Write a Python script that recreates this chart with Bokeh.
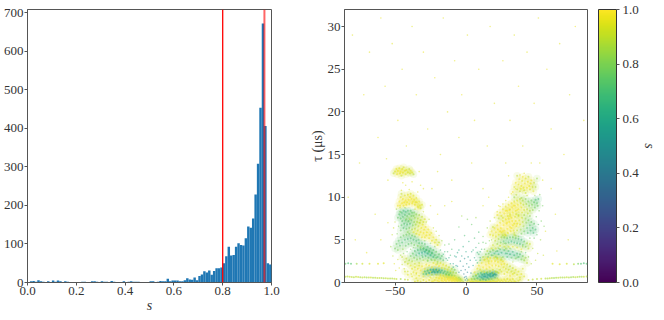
from bokeh.embed import file_html
from bokeh.resources import INLINE
from bokeh.plotting import figure
from bokeh.layouts import row
from bokeh.models import (ColumnDataSource, ColorBar, LinearColorMapper, FixedTicker,
                          Label, Span, Range1d, PrintfTickFormatter, Title)
from bokeh.palettes import Viridis256

hist_s = [i / 100 for i in range(100)]
hist_counts = [1, 3, 4, 2, 6, 3, 2, 1, 3, 1, 5, 2, 5, 3, 1, 3, 2, 1, 1, 0,
               1, 1, 2, 2, 1, 1, 3, 3, 2, 1, 3, 2, 2, 1, 4, 2, 1, 1, 0, 3,
               0, 2, 3, 2, 2, 2, 1, 1, 1, 1, 3, 3, 1, 2, 4, 3, 3, 10, 3, 5,
               5, 5, 3, 3, 6, 11, 8, 7, 13, 6, 17, 21, 29, 26, 31, 20, 30, 37, 37, 39,
               50, 68, 93, 70, 71, 93, 102, 97, 96, 115, 145, 142, 166, 228, 308, 453, 672, 406, 50, 47]
s_lines = [0.80, 0.971]

x_ticks_hist = [0.0, 0.2, 0.4, 0.6, 0.8, 1.0]
y_ticks_hist = [0, 100, 200, 300, 400, 500, 600, 700]
x_ticks_map = [-50, 0, 50]
y_ticks_map = [0, 5, 10, 15, 20, 25, 30]
cb_ticks = [0.0, 0.2, 0.4, 0.6, 0.8, 1.0]

# (f_D mHz, tau us, s), feature by feature
arc_r12 = [(33,10.6,.97),(34,11.2,.95),(35,11.7,.98),(36,10.9,.93),(37,11.5,.96),(37.5,12.1,.98),(38,10.7,.9),(39,11.3,.97),(39.5,11.9,.95),(40,12.4,.98),(41,10.8,.93),(41.5,11.6,.98),(42,12.2,.96),(43,11.1,.99),(43.5,11.8,.97),(44,12.4,.9),(45,10.9,.94),(45.5,11.6,.96),(46,12.0,.97),(47,11.2,.92),(47.5,10.7,.95),(48,11.7,.9),(49,11.2,.88),(36,12.5,.9),(42,10.5,.92),(38.5,11.0,.98),(40.5,11.1,.96),(44.5,11.3,.97),(35.5,10.3,.9),(50,12.2,.85)]
arc_r9 = [(22,7.9,.97),(24,8.2,.98),(25,7.8,.95),(26,8.6,.97),(27,8.1,.99),(28,8.9,.96),(29,8.4,.98),(30,9.1,.97),(30.5,8.5,.99),(31,8.0,.95),(32,9.3,.97),(32.5,8.8,.99),(33,8.2,.98),(34,9.5,.96),(34.5,9.0,.98),(35,8.4,.97),(35.5,8.0,.94),(36,9.6,.95),(36.5,9.1,.97),(37,8.6,.98),(38,9.8,.9),(38.5,9.3,.94),(39,8.8,.96),(39.5,8.2,.95),(40,9.6,.88),(40.5,9.1,.9),(41,8.5,.94),(42,9.8,.82),(42.5,9.2,.86),(43,8.6,.9),(43.5,8.1,.92),(44,9.5,.8),(44.5,9.0,.83),(45,8.4,.87),(46,9.6,.78),(46.5,9.1,.8),(47,8.5,.84),(48,9.4,.76),(48.5,8.8,.78),(49,9.7,.72),(50,9.3,.75),(50.5,9.0,.78),(51,9.8,.7),(28,8.4,.98),(31,8.6,.96),(33.5,9.0,.97),(36,8.5,.98),(26,7.6,.93),(29.5,7.8,.96),(37,7.9,.9),(41,7.9,.85),(45,7.8,.82),(23,7.5,.9),(39,9.9,.85),(34,10.0,.85)]
arc_r7 = [(17,5.6,.96),(18,6.0,.97),(19,5.5,.95),(20,6.4,.98),(21,5.9,.98),(22,6.7,.97),(22.5,6.2,.98),(23,5.6,.95),(24,7.0,.98),(24.5,6.4,.99),(25,5.9,.97),(26,7.2,.97),(26.5,6.7,.99),(27,6.1,.98),(27.5,5.6,.95),(28,7.4,.98),(28.5,6.9,.99),(29,6.3,.99),(29.5,5.8,.96),(30,7.5,.97),(30.5,7.1,.99),(31,6.5,.98),(31.5,6.0,.97),(32,7.6,.98),(32.5,7.2,.99),(33,6.7,.98),(33.5,6.1,.96),(34,5.6,.92),(34.5,7.7,.96),(35,7.2,.98),(35.5,6.6,.97),(36,6.1,.9),(37,7.8,.94),(37.5,7.3,.96),(38,6.8,.95),(38.5,6.2,.85),(39,5.7,.8),(39.5,7.6,.92),(40,7.1,.9),(40.5,6.6,.86),(41,6.0,.78),(42,7.5,.85),(42.5,7.0,.82),(43,6.4,.75),(43.5,5.8,.72),(44,7.3,.8),(45,6.7,.74),(45.5,6.1,.7),(46,7.1,.76),(47,6.4,.72),(47.5,5.8,.7),(48,6.9,.74),(26,6.0,.99),(29,7.0,.98),(32,6.4,.99),(34,6.9,.97),(24,6.0,.98),(21,5.4,.96),(36,6.9,.97),(28,5.5,.95),(31,7.8,.96),(19,6.5,.9),(49,6.2,.7)]
arc_r5 = [(19,4.4,.92),(20.5,4.9,.9),(22,4.5,.85),(23,5.1,.88),(24.5,4.7,.8),(25,5.3,.85),(26.5,4.8,.75),(27,5.3,.8),(28,4.6,.78),(29,5.2,.75),(30,4.7,.72),(31,5.3,.75),(32,4.8,.7),(33,5.3,.78),(34,4.7,.72),(35,5.2,.74),(36,4.6,.7),(37,5.1,.72),(38,4.5,.72),(39,5.0,.7),(40,4.4,.78),(41,4.8,.75),(42,4.2,.8),(43,4.6,.85),(44,4.0,.9),(45,4.5,.92),(24,4.3,.95),(27,4.2,.93),(30,4.2,.92),(33,4.2,.94),(36,4.1,.92),(39,3.9,.95),(21,4.0,.96),(18,4.0,.95),(26,5.5,.9),(35,5.5,.85)]
arc_r3 = [(12,3.0,.85),(14,3.3,.8),(15.5,3.0,.78),(17,3.6,.75),(18,3.2,.7),(19,3.8,.78),(20,3.4,.68),(21,3.0,.8),(22,3.7,.7),(23,3.3,.66),(24,3.9,.75),(25,3.5,.65),(26,3.0,.78),(27,3.8,.7),(28,3.4,.66),(29,3.0,.72),(30,3.7,.7),(31,3.3,.64),(32,2.9,.75),(33,3.6,.68),(34,3.2,.66),(35,2.8,.8),(36,3.4,.7),(37,3.0,.72),(38,3.3,.72),(39,2.7,.8),(40,3.1,.78),(41,2.6,.85),(42,2.9,.85),(43,2.3,.9),(13,2.7,.9),(16,2.5,.92),(22,2.9,.85),(25,2.7,.85),(15,3.7,.88),(10,2.6,.75),(9,3.3,.72),(28,4.0,.85)]
arc_r2 = [(8,1.6,.96),(9,2.0,.97),(10,1.5,.95),(11,2.3,.98),(12,1.8,.98),(13,2.6,.97),(14,2.1,.99),(14.5,1.6,.97),(15,2.8,.98),(16,2.3,.99),(16.5,1.8,.98),(17,2.9,.97),(18,2.5,.99),(18.5,2.0,.98),(19,1.5,.95),(20,2.9,.96),(20.5,2.5,.98),(21,2.0,.97),(22,2.8,.96),(22.5,2.4,.98),(23,1.9,.96),(24,1.5,.93),(24.5,2.6,.97),(25,2.1,.98),(26,2.5,.97),(26.5,1.8,.95),(27,2.2,.97),(28,1.6,.94),(29,2.1,.93),(30,1.5,.92),(31,1.9,.9),(32,1.3,.92),(33,1.7,.92),(34,1.1,.93),(35,1.5,.95),(36,0.9,.95),(37,1.3,.95),(38,0.6,.95),(39,1.0,.95),(40,1.6,.93),(41,0.7,.94),(6,1.2,.95),(7,0.9,.96),(11,1.3,.92),(13,1.2,.95),(15,1.2,.9),(17,1.3,.92),(19,1.1,.95),(21,1.3,.93),(23,1.1,.96),(25,1.3,.94),(27,1.0,.96),(29,1.2,.96),(31,0.8,.97),(33,1.0,.96)]
arc_r1 = [(4,0.4,.85),(5,0.7,.8),(6,0.4,.78),(7,0.8,.75),(8,0.5,.7),(8.5,1.0,.75),(9.5,0.7,.66),(10,0.3,.78),(10.5,1.1,.7),(11,0.6,.6),(11.5,0.9,.62),(12,0.4,.68),(13,1.0,.62),(13.5,0.7,.56),(14,0.3,.75),(14.5,1.1,.66),(15,0.6,.58),(15.5,0.9,.6),(16,0.4,.74),(17,1.0,.58),(17.5,0.7,.62),(18,0.4,.82),(18.5,1.1,.62),(19,0.8,.56),(20,1.0,.54),(20.5,0.6,.78),(21,0.9,.54),(22,0.5,.88),(22,1.2,.84),(12.5,0.7,.58),(16.5,0.8,.56),(19.5,0.9,.58)]
arc_r0 = [(1,0.1,.95),(2,0.3,.93),(3,0.1,.97),(4,0.15,.98),(5,0.1,.96),(6,0.05,.98),(7,0.2,.97),(8,0.1,.99),(9,0.15,.98),(10,0.05,.97),(11,0.15,.98),(12,0.1,.99),(13,0.05,.98),(14,0.1,.97),(15,0.15,.98),(16,0.05,.99),(17,0.15,.97),(18,0.08,.98),(19,0.2,.96),(20,0.1,.98),(21,0.05,.97),(22,0.12,.98),(23,0.3,.96),(24,0.1,.97),(25,0.25,.96),(26,0.08,.97),(27,0.35,.96),(28,0.15,.97),(29,0.4,.95),(30,0.1,.96),(31,0.3,.97),(32,0.08,.96),(33,0.4,.96),(34,0.15,.96),(35,0.1,.95),(37,0.2,.95),(38,0.35,.95)]

arc_l13 = [(-50,13.0,.95),(-49,13.3,.96),(-48.5,12.7,.97),(-48,13.1,.98),(-47,13.4,.95),(-46.5,12.8,.97),(-46,13.0,.98),(-45,13.3,.96),(-44.5,12.9,.97),(-44,13.5,.93),(-43,13.1,.96),(-42.5,12.7,.95),(-42,13.2,.95),(-41,12.9,.94),(-40,13.3,.9),(-39.5,12.8,.92),(-39,13.1,.96),(-38,12.9,.95),(-37,12.7,.88),(-45.5,12.5,.92),(-51,12.8,.9)]
arc_l10 = [(-48,9.0,.97),(-47,9.5,.98),(-46.5,9.0,.97),(-46,10.0,.96),(-45,9.3,.99),(-44.5,9.8,.98),(-44,9.0,.97),(-43,10.2,.96),(-42.5,9.6,.99),(-42,9.1,.98),(-41,10.3,.95),(-40.5,9.7,.98),(-40,9.2,.97),(-39,10.4,.94),(-38.5,9.8,.99),(-38,9.3,.98),(-37,10.2,.95),(-36.5,9.7,.98),(-36,9.1,.97),(-35,9.9,.96),(-34.5,9.4,.98),(-34,8.9,.96),(-33,9.5,.95),(-32.5,9.0,.97),(-32,8.7,.92),(-31,9.1,.93),(-45.5,10.4,.9),(-41.5,9.4,.98),(-39.5,10.0,.97),(-37.5,9.5,.98),(-35.5,9.4,.96),(-43.5,9.4,.98),(-33.5,8.8,.95)]
arc_l8 = [(-48,7.6,.76),(-47,8.0,.72),(-46,7.5,.74),(-45.5,8.2,.7),(-44.5,7.7,.72),(-44,8.4,.7),(-43,7.9,.72),(-42.5,8.3,.68),(-41.5,7.8,.76),(-41,8.4,.72),(-40,8.0,.74),(-39,8.4,.74),(-38.5,7.8,.78),(-38,8.2,.76),(-37,7.8,.8),(-36.5,8.2,.78),(-36,7.6,.84),(-35,8.0,.82),(-34,7.5,.88),(-33,7.9,.86),(-32,7.3,.9),(-31,7.7,.9),(-30,7.1,.93),(-29,7.4,.94),(-42,7.4,.82),(-39.5,7.4,.86),(-46.5,8.3,.78)]
arc_l7 = [(-46,6.1,.78),(-45.5,6.7,.75),(-45,7.2,.74),(-44,6.4,.72),(-43.5,6.9,.72),(-42.5,7.3,.72),(-42,6.3,.75),(-41.5,6.8,.72),(-40.5,7.2,.74),(-40,6.4,.78),(-39.5,6.9,.72),(-38.5,7.3,.76),(-38,6.2,.86),(-37.5,6.7,.8),(-36.5,7.1,.82),(-36,6.3,.9),(-35.5,6.8,.86),(-34.5,7.1,.88),(-34,6.1,.93),(-33.5,6.6,.92),(-32.5,7.0,.93),(-32,5.9,.97),(-31.5,6.4,.97),(-30.5,6.8,.96),(-30,5.8,.98),(-29.5,6.2,.98),(-28.5,6.5,.97),(-28,5.5,.98),(-27.5,5.9,.98),(-26.5,6.2,.97),(-26,5.2,.97),(-25.5,5.6,.98),(-24.5,5.8,.96),(-24,4.9,.96),(-23,5.3,.97),(-22,4.7,.95),(-21,5.0,.95),(-20,4.4,.95),(-19,4.7,.9),(-37,5.9,.95),(-41,5.9,.82),(-33,5.6,.97),(-29,5.3,.97),(-35,5.7,.95),(-31,5.3,.98)]
arc_l5 = [(-50,4.0,.78),(-49,4.5,.76),(-48,3.8,.8),(-47.5,4.9,.74),(-46.5,4.3,.74),(-46,5.3,.76),(-45,4.7,.72),(-44.5,3.9,.82),(-44,5.5,.78),(-43,5.0,.72),(-42.5,4.3,.76),(-42,5.6,.76),(-41,5.1,.72),(-40.5,4.5,.74),(-40,5.7,.78),(-39,5.2,.72),(-38.5,4.6,.76),(-38,5.5,.76),(-37,5.0,.72),(-36.5,4.4,.78),(-36,5.4,.76),(-35,4.9,.72),(-34,4.3,.8),(-33.5,5.0,.74),(-33,4.6,.72),(-32,4.1,.82),(-31,4.6,.72),(-30,4.0,.76),(-29,4.5,.74),(-28,3.8,.76),(-27,4.2,.72),(-26,3.6,.76),(-25,4.0,.72),(-24,3.4,.74),(-23,3.8,.74),(-22,3.2,.74),(-21,3.6,.76),(-20,3.0,.72),(-19,3.3,.74),(-18,2.8,.7),(-17,3.1,.74),(-16,2.6,.74)]
arc_l3 = [(-40,2.6,.85),(-39,3.1,.78),(-38,2.5,.88),(-37.5,3.4,.75),(-36.5,2.9,.8),(-36,3.7,.72),(-35,3.2,.72),(-34.5,2.7,.82),(-34,3.8,.7),(-33,3.4,.66),(-32.5,2.8,.8),(-32,3.9,.7),(-31,3.5,.62),(-30.5,3.0,.72),(-30,4.0,.72),(-29,3.6,.62),(-28.5,3.1,.7),(-28,3.8,.66),(-27,3.4,.62),(-26.5,2.9,.76),(-26,3.7,.7),(-25,3.2,.64),(-24.5,2.7,.8),(-24,3.5,.68),(-23,3.0,.66),(-22,2.6,.85),(-21,2.9,.74),(-20,2.4,.85),(-43,2.4,.9),(-42,2.8,.9),(-41,2.2,.92),(-45,3.0,.9),(-27,2.6,.85),(-30,2.6,.88),(-33,2.3,.9),(-36,2.2,.92),(-39,2.0,.95)]
arc_l2 = [(-38,1.6,.95),(-37,1.2,.96),(-36,1.8,.95),(-35,1.1,.96),(-34,1.6,.97),(-33,2.0,.95),(-32,1.4,.97),(-31,1.9,.97),(-30,1.2,.98),(-29,1.6,.98),(-28,2.1,.96),(-27,1.5,.98),(-26,2.0,.97),(-25,1.3,.98),(-24,1.8,.98),(-23,2.3,.95),(-22,1.6,.97),(-21,2.1,.97),(-20,1.4,.95),(-19,1.9,.97),(-18,2.3,.95),(-17,1.7,.96),(-16,2.1,.95),(-15,1.6,.95),(-14,2.0,.93),(-13,1.5,.94),(-12,1.8,.9),(-11,1.3,.93),(-10,1.6,.85),(-9,1.2,.88),(-8,1.5,.78),(-7,1.1,.85),(-33,0.8,.96),(-30,0.7,.97),(-27,0.9,.97),(-38,0.7,.95),(-41,0.9,.95),(-43,1.3,.93),(-35,0.5,.96),(-25,0.6,.97)]
arc_l1 = [(-30,1.0,.76),(-29,1.3,.72),(-28,1.0,.68),(-27,1.4,.66),(-26,1.1,.62),(-25,1.5,.64),(-24,1.2,.58),(-23,1.5,.6),(-22,1.2,.56),(-21,1.5,.58),(-20,1.2,.6),(-19,1.4,.62),(-18,1.2,.66),(-17,1.4,.68),(-16,1.1,.7),(-15,1.3,.72),(-14,1.0,.74),(-13,1.2,.76),(-12,0.9,.78),(-11,1.1,.78),(-24,0.9,.88),(-21,0.9,.9),(-18,0.9,.95),(-23,1.3,.58),(-20,1.3,.56)]
arc_l0 = [(-22,0.3,.97),(-21,0.6,.96),(-20,0.2,.98),(-19,0.5,.98),(-18,0.7,.97),(-17,0.2,.99),(-17,0.5,.99),(-16,0.8,.95),(-15,0.3,.99),(-15,0.6,.99),(-14,0.9,.9),(-14,0.15,.99),(-13,0.4,.99),(-13,0.7,.98),(-12,0.2,.99),(-12,0.55,.99),(-12,0.9,.85),(-11,0.35,.99),(-11,0.7,.98),(-10,0.15,.99),(-10,0.5,.99),(-10,0.85,.82),(-9,0.3,.99),(-9,0.65,.97),(-8,0.1,.98),(-8,0.45,.98),(-8,0.8,.85),(-7,0.3,.98),(-7,0.6,.95),(-6,0.15,.97),(-6,0.45,.95),(-5,0.3,.96),(-5,0.6,.85),(-4,0.15,.96),(-4,0.4,.85),(-3,0.25,.9),(-2,0.1,.9),(-16,0.05,.98),(-19,0.1,.98),(-24,0.1,.97),(-26,0.3,.96),(-28,0.1,.97),(-30,0.3,.96),(-32,0.1,.96),(-34,0.2,.95),(-23,0.15,.97),(-36,0.1,.95)]
arc_center = [(-9,2.2,.6),(-7,3.0,.55),(-6,1.9,.5),(-5,3.8,.6),(-4,2.5,.5),(-3.5,1.4,.45),(-3,3.1,.55),(-2,4.2,.62),(-2,1.9,.45),(-1.5,1.0,.42),(-1,2.8,.5),(-0.5,1.5,.42),(0,0.7,.45),(0,3.6,.6),(0.5,2.2,.5),(1,1.2,.45),(1.5,3.0,.55),(2,4.8,.65),(2,1.8,.5),(3,2.6,.55),(3.5,1.1,.5),(4,3.6,.6),(5,2.0,.55),(6,5.2,.7),(6,2.9,.6),(7,4.1,.65),(8,2.3,.65),(9,5.9,.7),(-11,3.2,.68),(-13,2.6,.7),(-8,5.0,.72),(-12,4.5,.75),(-15,3.6,.7),(10,3.6,.7),(-5,6.5,.75),(4,6.8,.75),(-1,5.5,.7),(1,7.4,.8),(12,4.7,.75),(-3,7.8,.85),(7,7.6,.85),(-0.5,0.3,.55),(0.5,0.5,.5),(-1,0.6,.45),(1,0.3,.5)]
line_07 = [(-85,0.68,.9),(-83.5,0.7,.88),(-82,0.66,.92),(-80.5,0.64,.9),(-79,0.62,.88),(-77.5,0.66,.9),(-76,0.64,.92),(-74.5,0.62,.86),(-73,0.6,.9),(-71.5,0.62,.88),(-70,0.6,.85),(-68.5,0.58,.9),(-67,0.58,.92),(-65.5,0.56,.86),(-64,0.55,.88),(-62.5,0.54,.9),(-61,0.52,.9),(-59.5,0.52,.88),(-58,0.5,.86),(-56.5,0.5,.9),(-55,0.48,.9),(-53.5,0.46,.86),(-52,0.46,.88),(-50.5,0.44,.9),(-49,0.42,.9),(-46,0.4,.86),(-43,0.36,.9),(-41,0.32,.92),(85,0.7,.88),(83,0.66,.92),(81.5,0.68,.86),(80,0.66,.85),(78.5,0.64,.88),(77,0.62,.9),(75.5,0.64,.86),(74,0.62,.84),(72.5,0.6,.88),(71,0.62,.9),(69.5,0.6,.88),(68,0.6,.86),(66.5,0.58,.88),(65,0.56,.9),(63.5,0.56,.86),(62,0.54,.84),(60.5,0.52,.88),(59,0.5,.9),(57.5,0.48,.88),(56,0.46,.88),(53,0.45,.92),(50,0.4,.9),(47,0.36,.9),(44,0.3,.92)]
line_22 = [(-85,2.2,.75),(-83,2.25,.7),(-81,2.2,.72),(-77,2.2,.85),(-73,2.2,.92),(-68,2.2,.94),(-62,2.2,.95),(-58,2.25,.95),(61,2.2,.95),(66,2.15,.95),(71,2.2,.93),(76,2.15,.88),(79,2.2,.78),(81,2.2,.72),(83,2.25,.7),(85,2.2,.72)]
background = [(-80,29,.95),(-75,14,.95),(-72,22,.97),(-68,27,.96),(-64,8,.95),(-62,17,.97),(-60,31,.97),(-57,23,.96),(-55,12,.96),(-52,28,.95),(-48,19,.97),(-45,25,.96),(-42,16,.96),(-38,30,.95),(-35,22,.97),(-33,13,.95),(-30,27,.97),(-27,18,.96),(-24,11,.95),(-22,24,.97),(-18,15,.96),(-16,31,.96),(-13,20,.96),(-10,12,.96),(-8,26,.96),(-5,17,.95),(-3,22,.97),(1,29,.96),(4,14,.96),(6,19,.96),(9,25,.97),(12,11,.95),(15,16,.96),(17,30,.96),(20,21,.96),(23,9,.96),(26,26,.97),(28,14,.96),(31,19,.96),(34,29,.95),(37,23,.97),(40,16,.96),(43,27,.96),(46,14,.96),(48,21,.97),(51,31,.96),(54,12,.95),(57,25,.97),(60,18,.96),(63,8,.96),(66,28,.96),(69,15,.97),(73,22,.95),(77,30,.97),(80,11,.96),(83,19,.96),(-83,10,.96),(-78,5,.96),(-70,3.5,.97),(-60,5,.96),(-55,7,.95),(72,5,.96),(64,3.7,.97),(56,6,.96),(-15,9,.95),(-10,9.5,.96),(12,9,.96),(16,10,.96),(-20,8,.97),(-25,9,.96),(60,11,.97),(-56,14.5,.95),(52,14,.96),(30,12.5,.96),(-30,11,.95),(-20,13,.95)]
fuzz_left = [(-53,4.2,.85),(-52,5.6,.9),(-51.5,3.1,.9),(-51,6.4,.92),(-50.5,2.2,.95),(-50,7.1,.9),(-49.5,1.4,.95),(-49,8.6,.85),(-48.5,5.7,.8),(-48,2.7,.92),(-47.5,6.6,.82),(-47,1.7,.95),(-46.5,8.8,.9),(-46,3.2,.85),(-45.5,10.8,.95),(-45,2.1,.9),(-44.5,11.7,.96),(-44,3.4,.8),(-43.5,1.6,.92),(-43,8.8,.85),(-42.5,11.4,.95),(-41.5,3.6,.75),(-41,1.3,.92),(-40,10.9,.95),(-39,3.9,.8),(-38.5,1.0,.95),(-38,11.8,.96),(-37,4.1,.8),(-36,8.6,.92),(-35,1.0,.94),(-34,10.6,.95),(-33,7.0,.88),(-32,11.4,.95),(-31,3.2,.72),(-30,8.3,.92),(-29,4.9,.82),(-28,7.1,.9),(-27,2.5,.8),(-26,7.4,.9),(-25,4.6,.8),(-24,2.6,.82),(-23,6.4,.92),(-22,4.2,.8),(-21,6.0,.9),(-20,2.2,.85),(-19,5.5,.9),(-18,3.8,.7),(-17,4.9,.85),(-16,3.3,.66),(-15,4.4,.78),(-14,2.8,.62),(-13,3.6,.68),(-12,2.9,.6),(-11,2.2,.62),(-10,3.9,.7),(-9,1.8,.58),(-8,3.1,.62),(-7,2.0,.55),(-6,3.5,.6),(-5,1.2,.5)]
fuzz_right = [(5,3.8,.65),(7,2.6,.62),(8,3.5,.65),(9,4.6,.72),(10,2.9,.68),(11,3.9,.7),(12,5.4,.8),(13,3.9,.75),(14,4.6,.78),(15,6.4,.85),(16,3.4,.78),(16.5,4.9,.82),(17,7.2,.9),(18,5.0,.88),(19,3.2,.78),(20,7.6,.92),(21,3.6,.72),(22,8.3,.95),(23,4.0,.85),(24,8.9,.95),(25,2.9,.85),(26,9.2,.95),(27,4.6,.82),(28,9.6,.95),(29,3.4,.7),(30,10.0,.95),(31,4.0,.8),(32,10.4,.96),(33,2.4,.88),(34,5.8,.9),(35,11.0,.96),(36,2.9,.75),(37,5.4,.82),(38,12.6,.96),(39,3.6,.8),(40,4.2,.85),(41,12.8,.95),(42,3.5,.75),(43,10.2,.9),(44,3.0,.82),(45,5.2,.78),(46,2.2,.88),(47,4.0,.88),(48,5.2,.75),(48.5,10.2,.85),(49,2.6,.9),(49.5,7.7,.78),(50,5.6,.76),(50.5,3.4,.9),(51,6.8,.72),(51.5,8.4,.8),(52,10.3,.8),(52.5,5.0,.85),(53,7.2,.78),(54,9.0,.78),(54.5,3.2,.92),(55,6.6,.8)]

main_arcs = [arc_r12, arc_r9, arc_r7, arc_r5, arc_r3, arc_r2, arc_r0, arc_r1,
             arc_l13, arc_l10, arc_l8, arc_l7, arc_l5, arc_l3, arc_l2, arc_l0, arc_l1]
thin_arcs = [background, arc_center, fuzz_left, fuzz_right]
line_arcs = [line_07, line_22]

TXT = "#333333"
SPINE = "#555555"
FONT = "Liberation Serif"

def style(fig):
    fig.grid.visible = False
    fig.outline_line_color = SPINE
    fig.outline_line_width = 1
    for ax in (fig.xaxis[0], fig.yaxis[0]):
        ax.axis_line_color = SPINE
        ax.major_tick_line_color = SPINE
        ax.major_tick_out = 3
        ax.major_tick_in = 0
        ax.minor_tick_line_color = None
        ax.major_label_text_font = FONT
        ax.major_label_text_font_size = "13px"
        ax.major_label_text_color = TXT
        ax.major_label_standoff = 1
        ax.axis_label_text_font = FONT
        ax.axis_label_text_font_size = "14px"
        ax.axis_label_text_color = TXT
        ax.axis_label_text_font_style = "normal"
        ax.axis_label_standoff = 0

p1 = figure(width=300, height=320, frame_width=244, frame_height=273, toolbar_location=None,
            output_backend="svg", x_range=Range1d(0, 1.0), y_range=Range1d(0, 708),
            min_border_left=27, min_border_top=9, min_border_bottom=38, min_border_right=29)
src = ColumnDataSource(dict(left=hist_s, right=[v + 0.01 for v in hist_s], top=hist_counts,
                            bottom=[0] * len(hist_s)))
p1.quad(left="left", right="right", top="top", bottom="bottom", source=src,
        fill_color="#1f77b4", line_color=None)
p1.add_layout(Span(location=s_lines[0], dimension="height", line_color="#ff0000", line_width=1.3))
p1.add_layout(Span(location=s_lines[1], dimension="height", line_color="#ff0000", line_width=2, line_alpha=0.6))
style(p1)
p1.xaxis.ticker = FixedTicker(ticks=x_ticks_hist)
p1.yaxis.ticker = FixedTicker(ticks=y_ticks_hist)
p1.xaxis.formatter = PrintfTickFormatter(format="%.1f")
p1.xaxis.axis_label = "s"
p1.xaxis.axis_label_text_font_style = "italic"

p2 = figure(width=364, height=320, frame_width=243, frame_height=273, toolbar_location=None,
            output_backend="svg", x_range=Range1d(-85.6, 85.6), y_range=Range1d(0, 32),
            min_border_left=44, min_border_top=9, min_border_bottom=38, min_border_right=77)
mapper = LinearColorMapper(palette=Viridis256, low=0, high=1)

def source_of(arcs):
    pts = [t for arc in arcs for t in arc]
    return ColumnDataSource(dict(fd=[t[0] for t in pts], tau=[t[1] for t in pts], s=[t[2] for t in pts]))

color = {"field": "s", "transform": mapper}
main_src = source_of(main_arcs)
p2.scatter(x="fd", y="tau", source=main_src, size=7.5, line_color=None, fill_color=color, fill_alpha=0.11)
p2.scatter(x="fd", y="tau", source=main_src, size=2, line_color=None, fill_color=color, fill_alpha=0.5)
p2.scatter(x="fd", y="tau", source=source_of(thin_arcs), size=1.6, line_color=None, fill_color=color, fill_alpha=0.5)
p2.scatter(x="fd", y="tau", source=source_of(line_arcs), size=2, line_color=None, fill_color=color, fill_alpha=0.6)
style(p2)
p2.xaxis.ticker = FixedTicker(ticks=x_ticks_map)
p2.yaxis.ticker = FixedTicker(ticks=y_ticks_map)
p2.yaxis.axis_label = "τ (μs)"
p2.xaxis.major_label_overrides = {-50: "−50"}
cb = ColorBar(color_mapper=mapper, ticker=FixedTicker(ticks=cb_ticks), width=18, height=273,
              margin=0, padding=0, location=(11, 0), bar_line_color="#333333", bar_line_width=1,
              major_tick_out=3, major_tick_in=0, major_tick_line_color=SPINE,
              formatter=PrintfTickFormatter(format="%.1f"), major_label_text_font=FONT,
              major_label_text_font_size="13px", major_label_text_color=TXT, label_standoff=3,
              border_line_color=None, background_fill_color=None)
p2.add_layout(cb, "right")
p2.add_layout(Title(text="s", align="center", text_font=FONT, text_font_size="14px",
                    text_font_style="italic", text_color=TXT, standoff=0), "right")
for txt, x, y, size, st in [("f", 96, -30, "14px", "italic"), ("D", 101, -33, "10px", "italic"), ("(mHz)", 113, -30, "14px", "normal")]:
    p2.add_layout(Label(x=x, y=y, x_units="screen", y_units="screen", text=txt, text_font=FONT,
                        text_font_size=size, text_font_style=st, text_color=TXT))

page = row(p1, p2, spacing=0)
open("out.html", "w").write(file_html(page, INLINE))
